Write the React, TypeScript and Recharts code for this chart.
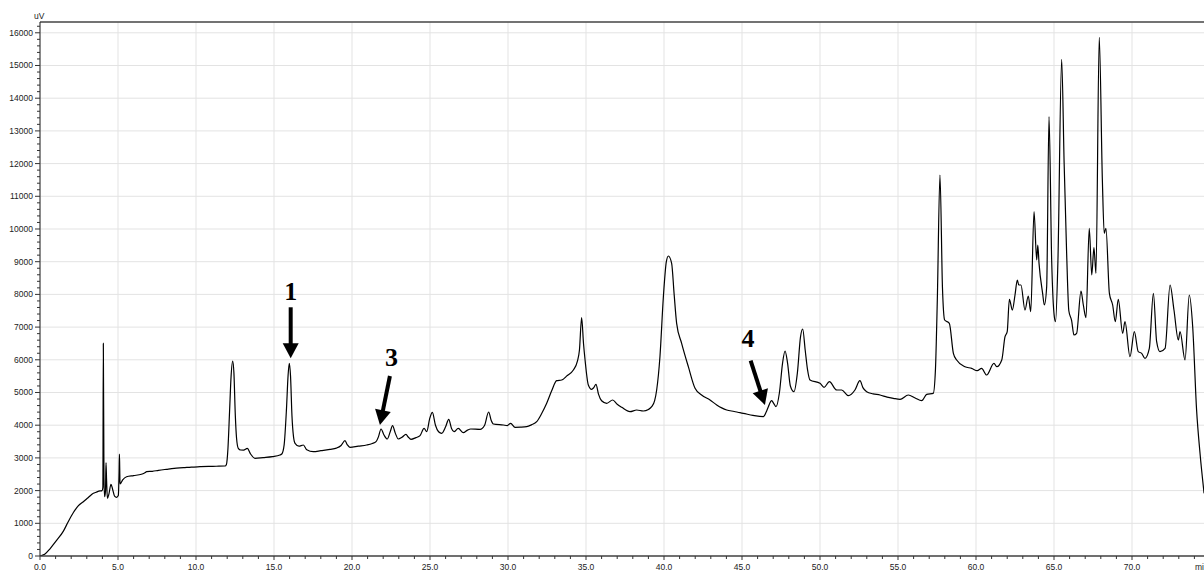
import React from 'react';
import { LineChart, Line, XAxis, YAxis, ReferenceLine, ReferenceDot } from 'recharts';

// retention time (min) and detector signal (uV)
const retentionTime = [
  0, 0.3, 0.64, 1.0, 1.5, 1.8, 2.14, 2.3, 2.45, 2.78, 3.1, 3.42, 3.6, 3.85, 3.98, 4.03, 4.06, 4.1, 4.14, 4.2, 4.23,
  4.27, 4.32, 4.42, 4.55, 4.65, 4.78, 4.91, 5.02, 5.07, 5.09, 5.11, 5.13, 5.3, 5.55, 6.0, 6.5, 6.7, 6.84, 7.2, 7.6,
  8.1, 8.6, 9.2, 9.7, 10.26, 10.8, 11.3, 11.86, 11.95, 12.05, 12.15, 12.25, 12.35, 12.43, 12.52, 12.6, 12.71, 12.86, 13.05, 13.29,
  13.5, 13.78, 14.3, 14.9, 15.38, 15.5, 15.65, 15.8, 15.9, 15.98, 16.06, 16.15, 16.25, 16.35, 16.6, 16.88, 17.1, 17.52, 18.0, 18.59,
  19.0, 19.3, 19.55, 19.7, 19.87, 20.4, 20.94, 21.3, 21.54, 21.7, 21.86, 22.05, 22.26, 22.45, 22.6, 22.78, 22.97, 23.2, 23.46, 23.6,
  23.78, 24.1, 24.36, 24.62, 24.79, 24.98, 25.15, 25.35, 25.55, 25.75, 26.0, 26.2, 26.38, 26.54, 26.81, 27.14, 27.4, 27.61, 28.21, 28.5,
  28.76, 28.92, 29.06, 29.7, 29.95, 30.17, 30.45, 30.8, 31.2, 31.5, 31.84, 32.15, 32.48, 32.8, 33.12, 33.44, 33.8, 34.19, 34.44, 34.58,
  34.72, 34.84, 34.94, 35.15, 35.36, 35.5, 35.64, 35.8, 36.0, 36.33, 36.71, 37.0, 37.29, 37.82, 38.25, 38.67, 39.0, 39.21, 39.4, 39.53,
  39.74, 39.96, 40.15, 40.28, 40.49, 40.65, 40.81, 41.13, 41.56, 41.99, 42.41, 42.95, 43.38, 43.7, 44.02, 44.5, 44.87, 45.08, 45.7, 46.37, 46.55, 46.69,
  46.9, 47.05, 47.18, 47.4, 47.6, 47.76, 47.92, 48.1, 48.33, 48.55, 48.75, 48.89, 49.05, 49.2, 49.36, 50.0, 50.26, 50.6, 51.07, 51.39,
  51.82, 52.24, 52.56, 52.75, 52.99, 53.4, 53.85, 54.3, 54.7, 55.13, 55.66, 56.1, 56.52, 56.84, 57.26, 57.4, 57.52, 57.69, 57.85, 57.99,
  58.29, 58.55, 58.76, 59.29, 59.72, 60.08, 60.36, 60.68, 61.15, 61.33, 61.65, 61.86, 62.0, 62.14, 62.33, 62.5, 62.65, 62.74, 62.88, 63.14,
  63.35, 63.51, 63.72, 63.89, 63.96, 64.04, 64.27, 64.38, 64.53, 64.68, 64.85, 65.02, 65.1, 65.25, 65.49, 65.65, 65.81, 65.95, 66.13, 66.28,
  66.45, 66.73, 66.88, 67.05, 67.26, 67.42, 67.56, 67.69, 67.9, 68.1, 68.22, 68.33, 68.55, 68.76, 68.93, 69.12, 69.4, 69.55, 69.87, 70.15,
  70.4, 70.62, 70.83, 71.11, 71.37, 71.58, 71.79, 72.12, 72.44, 72.69, 72.97, 73.08, 73.4, 73.67, 73.89, 74.14, 74.36, 74.62,
];

const signal = [
  0, 50, 220, 440, 760, 1040, 1330, 1440, 1530, 1660, 1790, 1917, 1950, 1990, 2000, 2100, 6500, 2400, 1813, 2000, 2853,
  2300, 1764, 1900, 2192, 2050, 1830, 1795, 1850, 2600, 3119, 2700, 2202, 2330, 2425, 2460, 2500, 2540, 2578, 2590, 2620,
  2651, 2680, 2700, 2720, 2731, 2740, 2745, 2752, 2800, 3300, 4400, 5500, 5963, 5600, 4300, 3600, 3293, 3242, 3240, 3293,
  3120, 2988, 3010, 3040, 3089, 3120, 3400, 4500, 5500, 5892, 5500, 4300, 3650, 3446, 3360, 3394, 3250, 3190, 3220, 3262,
  3300, 3380, 3526, 3400, 3324, 3360, 3394, 3440, 3496, 3650, 3884, 3700, 3578, 3800, 3985, 3750, 3578, 3630, 3720, 3640,
  3568, 3620, 3680, 3904, 3801, 4200, 4394, 4000, 3800, 3752, 3950, 4180, 3900, 3801, 3904, 3771, 3850, 3884, 3874, 4000,
  4404, 4150, 4037, 4006, 3990, 4058, 3936, 3940, 3954, 4010, 4107, 4350, 4670, 5050, 5361, 5382, 5520, 5688, 5942, 6300,
  7290, 6500, 5994, 5229, 5097, 5150, 5250, 4950, 4749, 4670, 4770, 4640, 4547, 4413, 4465, 4434, 4480, 4566, 4750, 5077,
  6095, 7930, 9000, 9174, 8951, 8000, 7116, 6504, 5789, 5128, 4923, 4770, 4620, 4530, 4465, 4420, 4382, 4363, 4300, 4260, 4400, 4566,
  4749, 4650, 4566, 5000, 5900, 6269, 5900, 5200, 5025, 5600, 6700, 6942, 6300, 5700, 5382, 5281, 5159, 5331, 5077, 5077,
  4903, 5077, 5361, 5150, 5025, 4960, 4923, 4860, 4822, 4791, 4923, 4830, 4749, 4943, 4975, 5700, 7829, 11650, 8200, 7217,
  7115, 6198, 5994, 5789, 5738, 5667, 5738, 5535, 5893, 5789, 5994, 6706, 6859, 7850, 7522, 7981, 8440, 8287, 8287, 7522,
  7951, 7471, 10529, 9052, 9511, 8950, 8033, 7676, 8236, 13434, 9052, 7318, 7165, 9000, 15189, 12000, 9256, 7500, 7200, 6758,
  6810, 8100, 7676, 7290, 10019, 8593, 9429, 8644, 15862, 11500, 9868, 10019, 8033, 7676, 7165, 7850, 6810, 7165, 6095, 6859,
  6248, 6198, 6045, 6350, 8033, 6553, 6248, 6350, 8287, 7522, 6605, 6859, 5994, 7981, 7012, 4465, 3140, 1917,
];

const xMajorTicks = [0, 5, 10, 15, 20, 25, 30, 35, 40, 45, 50, 55, 60, 65, 70];
const yMajorTicks = [0, 1000, 2000, 3000, 4000, 5000, 6000, 7000, 8000, 9000, 10000, 11000, 12000, 13000, 14000, 15000, 16000];

// peak markers: label, arrow tip (min, uV)
const markerLabels = ['1', '3', '4'];
const markerTime = [16.07, 21.79, 46.47];
const markerSignal = [6046, 4006, 4618];

const X_MAX = 74.615;
const Y_MAX = 16330;

const xMinorTicks = Array.from({ length: 75 }, (_, i) => i);
const yMinorTicks = Array.from({ length: 82 }, (_, i) => i * 200);

const chromData = retentionTime.map((t, i) => ({ t, v: signal[i] }));

const tickFont = '"Liberation Sans", Arial, sans-serif';
const axisColor = '#333';
const gridColor = '#e3e3e3';

const XTick = (props: any) => {
  const { x, y, payload } = props;
  const major = payload.value % 5 === 0;
  return (
    <g>
      <line x1={x} x2={x} y1={y} y2={y + (major ? 4 : 3)} stroke={axisColor} strokeWidth={1} />
      {major && (
        <text x={x} y={y + 14} textAnchor="middle" fontSize={8.5} fontFamily={tickFont} fill="#222">
          {payload.value.toFixed(1)}
        </text>
      )}
    </g>
  );
};

const YTick = (props: any) => {
  const { x, y, payload } = props;
  const major = payload.value % 1000 === 0;
  return (
    <g>
      <line x1={x} x2={x - (major ? 5 : 3)} y1={y} y2={y} stroke={axisColor} strokeWidth={1} />
      {major && (
        <text x={x - 7} y={y + 3} textAnchor="end" fontSize={8.5} fontFamily={tickFont} fill="#222">
          {payload.value}
        </text>
      )}
    </g>
  );
};

// arrow + number drawn relative to the arrow tip (pixel offsets)
const arrowGeom = [
  { tail: [0, -51], label: [0, -67] },
  { tail: [10, -49], label: [11.5, -68] },
  { tail: [-14.3, -44.3], label: [-17, -67] },
];

const makeMarker = (idx: number) => (props: any) => {
  const { cx, cy } = props;
  if (cx == null || cy == null) return null;
  const g = arrowGeom[idx];
  const tx = cx + g.tail[0];
  const ty = cy + g.tail[1];
  const dx = cx - tx;
  const dy = cy - ty;
  const len = Math.sqrt(dx * dx + dy * dy);
  const ux = dx / len;
  const uy = dy / len;
  const headLen = 15;
  const headHalf = 8;
  const bx = cx - ux * headLen;
  const by = cy - uy * headLen;
  const px = -uy;
  const py = ux;
  const pts = `${cx},${cy} ${bx + px * headHalf},${by + py * headHalf} ${bx - px * headHalf},${by - py * headHalf}`;
  return (
    <g>
      <line x1={tx} y1={ty} x2={bx + ux * 1} y2={by + uy * 1} stroke="#000" strokeWidth={4} />
      <polygon points={pts} fill="#000" />
      <text
        x={cx + g.label[0]}
        y={cy + g.label[1] + 9}
        textAnchor="middle"
        fontSize={26}
        fontWeight="bold"
        fontFamily='"Liberation Serif", "Times New Roman", serif'
        fill="#000"
      >
        {markerLabels[idx]}
      </text>
    </g>
  );
};

export default function App() {
  return (
    <div style={{ position: 'absolute', left: 0, top: 0, width: 1204, height: 571, background: '#fff' }}>
      <LineChart width={1204} height={571} data={chromData} margin={{ top: 22, right: 0, bottom: 0, left: 0 }}>
        {xMajorTicks.map((t) => (
          <ReferenceLine key={`vx-${t}`} x={t} stroke={gridColor} strokeWidth={1} />
        ))}
        {yMajorTicks.map((v) => (
          <ReferenceLine key={`hy-${v}`} y={v} stroke={gridColor} strokeWidth={1} />
        ))}
        <ReferenceLine y={Y_MAX} stroke="#444" strokeWidth={1.5} />
        <XAxis
          dataKey="t"
          type="number"
          domain={[0, X_MAX]}
          allowDataOverflow
          ticks={xMinorTicks}
          interval={0}
          tickSize={0}
          tickMargin={0}
          tickLine={false}
          tick={<XTick />}
          height={15}
          axisLine={{ stroke: '#444', strokeWidth: 1.5 }}
        />
        <YAxis
          type="number"
          domain={[0, Y_MAX]}
          allowDataOverflow
          ticks={yMinorTicks}
          interval={0}
          tickSize={0}
          tickMargin={0}
          tickLine={false}
          tick={<YTick />}
          width={40}
          axisLine={{ stroke: '#222', strokeWidth: 1 }}
        />
        <Line
          type="monotone"
          dataKey="v"
          stroke="#000"
          strokeWidth={1.2}
          dot={false}
          activeDot={false}
          isAnimationActive={false}
        />
        {markerLabels.map((m, i) => (
          <ReferenceDot
            key={`mk-${m}`}
            x={markerTime[i]}
            y={markerSignal[i]}
            r={0}
            ifOverflow="visible"
            shape={makeMarker(i)}
          />
        ))}
      </LineChart>
      <span style={{ position: 'absolute', left: 1195, top: 562, fontSize: 8.5, fontFamily: tickFont, color: '#222', whiteSpace: 'nowrap' }}>min</span>
      <span style={{ position: 'absolute', left: 34, top: 11, fontSize: 8.5, fontFamily: tickFont, color: '#222' }}>uV</span>
    </div>
  );
}
